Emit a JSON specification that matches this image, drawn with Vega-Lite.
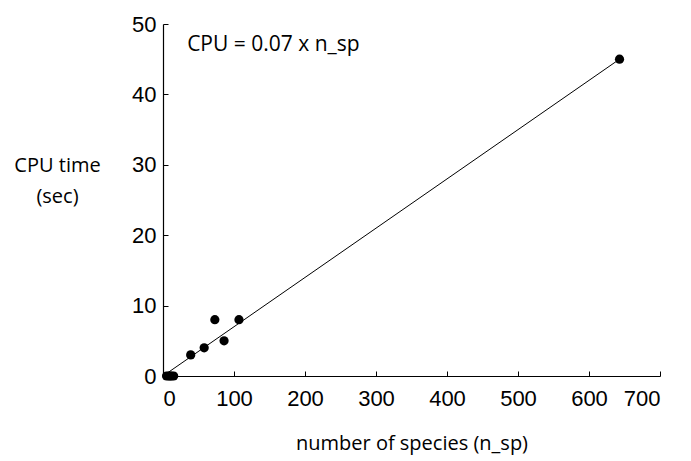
{
  "$schema": "https://vega.github.io/schema/vega-lite/v6.json",
  "width": 497,
  "height": 352,
  "autosize": "none",
  "padding": {"left": 163, "top": 24, "right": 31, "bottom": 85},
  "background": "white",
  "config": {
    "view": {"stroke": null},
    "axis": {
      "grid": false,
      "domainColor": "#000000",
      "domainWidth": 1.2,
      "tickColor": "#000000",
      "tickSize": 5,
      "labelColor": "#000000",
      "labelFont": "Liberation Sans",
      "labelFontSize": 22,
      "titleColor": "#000000",
      "titleFont": "Open Sans",
      "titleFontSize": 20,
      "titleFontWeight": "normal"
    }
  },
  "datasets": {
    "points": [
      {"n_sp": 5, "cpu": 0},
      {"n_sp": 8, "cpu": 0},
      {"n_sp": 10, "cpu": 0},
      {"n_sp": 12, "cpu": 0},
      {"n_sp": 15, "cpu": 0},
      {"n_sp": 39, "cpu": 3},
      {"n_sp": 58, "cpu": 4},
      {"n_sp": 73, "cpu": 8},
      {"n_sp": 86, "cpu": 5},
      {"n_sp": 107, "cpu": 8},
      {"n_sp": 643, "cpu": 45}
    ],
    "fit": [
      {"n_sp": 0, "cpu": 0},
      {"n_sp": 643, "cpu": 45}
    ],
    "note": [
      {"n_sp": 34, "cpu": 47, "label": "CPU = 0.07 x n_sp"}
    ]
  },
  "layer": [
    {
      "data": {"name": "fit"},
      "mark": {"type": "line", "color": "#000000", "strokeWidth": 1},
      "encoding": {
        "x": {
          "field": "n_sp",
          "type": "quantitative",
          "scale": {"domain": [0, 700], "nice": false},
          "axis": {
            "values": [0, 100, 200, 300, 400, 500, 600, 700],
            "tickSize": -5,
            "labelPadding": 17,
            "title": "number of species (n_sp)",
            "titleBaseline": "middle",
            "titleY": 67
          }
        },
        "y": {
          "field": "cpu",
          "type": "quantitative",
          "scale": {"domain": [0, 50], "nice": false},
          "axis": {
            "values": [0, 5, 10, 15, 20, 25, 30, 35, 40, 45, 50],
            "labelExpr": "datum.value % 10 === 0 ? datum.label : ''",
            "tickSize": -5,
            "labelPadding": 12,
            "title": ["CPU time", "(sec)"],
            "titleAngle": 0,
            "titleAlign": "center",
            "titleBaseline": "middle",
            "titleLineHeight": 31,
            "titleX": -106,
            "titleY": 141
          }
        }
      }
    },
    {
      "data": {"name": "points"},
      "mark": {"type": "circle", "color": "#000000", "opacity": 1, "size": 85},
      "encoding": {
        "x": {"field": "n_sp", "type": "quantitative"},
        "y": {"field": "cpu", "type": "quantitative"}
      }
    },
    {
      "data": {"name": "note"},
      "mark": {"type": "text", "align": "left", "baseline": "middle", "font": "Open Sans", "fontSize": 21, "color": "#000000"},
      "encoding": {
        "x": {"field": "n_sp", "type": "quantitative"},
        "y": {"field": "cpu", "type": "quantitative"},
        "text": {"field": "label"}
      }
    }
  ]
}
